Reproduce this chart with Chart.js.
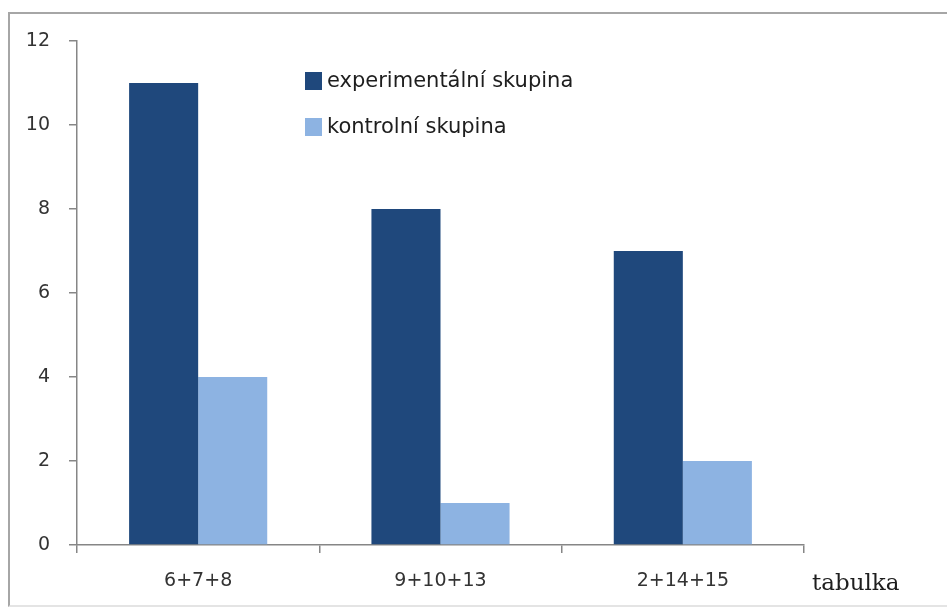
<!DOCTYPE html>
<html>
<head>
<meta charset="utf-8">
<title>tabulka</title>
<script src="https://cdn.jsdelivr.net/npm/chart.js@4.4.0/dist/chart.umd.min.js"></script>
<style>
  html, body { margin: 0; padding: 0; background: #fff; }
  #wrap { position: relative; width: 947px; height: 610px; overflow: hidden; }
  #frame {
    position: absolute; left: 8px; top: 12px; width: 960px; height: 591px;
    border: 2px solid #a6a6a6; border-bottom-color: #e4e4e4; pointer-events: none;
  }
  #chart { position: absolute; left: 0; top: 0; }
</style>
</head>
<body>
<div id="wrap">
  <canvas id="chart" width="947" height="610"></canvas>
  <div id="frame"></div>
</div>
<script>
/* data */
var categories = ['6+7+8', '9+10+13', '2+14+15'];
var experimentalValues = [11, 8, 7];
var controlValues = [4, 1, 2];
var seriesLabels = ['experimentální skupina', 'kontrolní skupina'];
var seriesColors = ['#1f487c', '#8db3e2'];
var yTicks = [0, 2, 4, 6, 8, 10, 12];
var xAxisTitle = 'tabulka';

var axisColor = '#868686';
var textColor = '#333333';

/* vertical legend inside the plot, top middle */
var boxLegend = {
  id: 'boxLegend',
  afterDraw: function (chart) {
    var ctx = chart.ctx;
    ctx.save();
    ctx.font = '21px "DejaVu Sans"';
    ctx.textBaseline = 'middle';
    ctx.textAlign = 'left';
    chart.data.datasets.forEach(function (ds, i) {
      var y = 81 + i * 46;
      ctx.fillStyle = ds.backgroundColor;
      ctx.fillRect(305, y - 9, 17, 18);
      ctx.fillStyle = '#1e1e1e';
      ctx.fillText(ds.label, 327, y + 1);
    });
    ctx.restore();
  }
};

/* axis title to the right of the x axis end */
var sideTitle = {
  id: 'sideTitle',
  afterDraw: function (chart) {
    var ctx = chart.ctx;
    var area = chart.chartArea;
    ctx.save();
    ctx.font = '23px "DejaVu Serif"';
    ctx.fillStyle = '#1e1e1e';
    ctx.textBaseline = 'alphabetic';
    ctx.textAlign = 'left';
    ctx.fillText(xAxisTitle, area.right + 8, area.bottom + 45);
    ctx.restore();
  }
};

new Chart(document.getElementById('chart'), {
  type: 'bar',
  data: {
    labels: categories,
    datasets: [
      { label: seriesLabels[0], data: experimentalValues, backgroundColor: seriesColors[0] },
      { label: seriesLabels[1], data: controlValues, backgroundColor: seriesColors[1] }
    ]
  },
  options: {
    responsive: false,
    animation: false,
    devicePixelRatio: 1,
    layout: { padding: { left: 0, top: 41, right: 143, bottom: 0 } },
    datasets: { bar: { categoryPercentage: 0.57, barPercentage: 1.0, borderWidth: 0 } },
    plugins: {
      legend: { display: false },
      tooltip: { enabled: false }
    },
    scales: {
      x: {
        afterFit: function (scale) { scale.height = 65; },
        grid: {
          offset: true,
          drawOnChartArea: false,
          drawTicks: true,
          tickLength: 8,
          color: axisColor,
          lineWidth: 1.5
        },
        border: { display: true, color: axisColor, width: 1.5 },
        ticks: {
          color: textColor,
          padding: 17,
          font: { family: 'DejaVu Sans', size: 19 }
        }
      },
      y: {
        min: yTicks[0],
        max: yTicks[yTicks.length - 1],
        afterFit: function (scale) { scale.width = 77; },
        afterBuildTicks: function (scale) {
          scale.ticks = yTicks.map(function (v) { return { value: v }; });
        },
        grid: {
          drawOnChartArea: false,
          drawTicks: true,
          tickLength: 8,
          color: axisColor,
          lineWidth: 1.5
        },
        border: { display: true, color: axisColor, width: 1.5 },
        ticks: {
          color: textColor,
          padding: 19,
          font: { family: 'DejaVu Sans', size: 19 }
        }
      }
    }
  },
  plugins: [boxLegend, sideTitle]
});
</script>
</body>
</html>
